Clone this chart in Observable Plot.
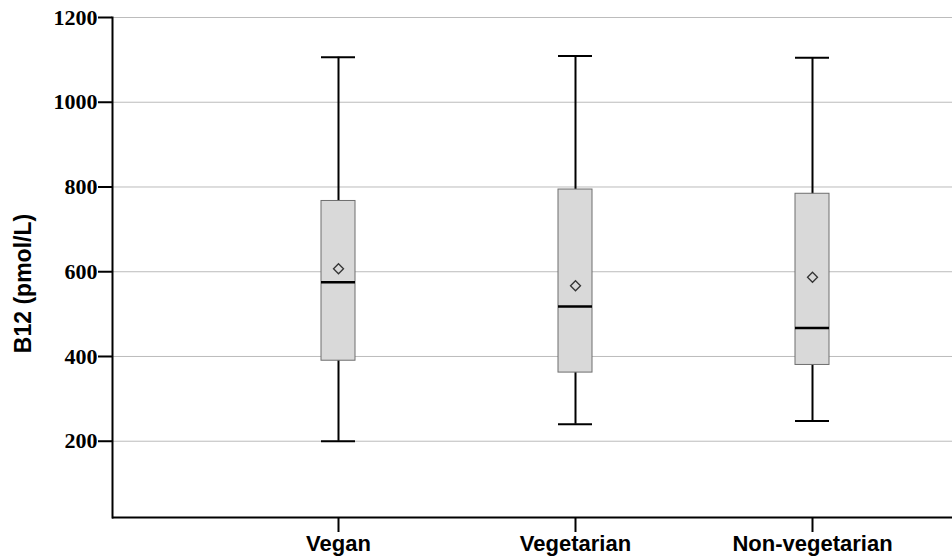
<!DOCTYPE html>
<html>
<head>
<meta charset="utf-8">
<script src="https://cdn.jsdelivr.net/npm/d3@7"></script>
<script src="https://cdn.jsdelivr.net/npm/@observablehq/plot@0.6"></script>
<style>
  html, body { margin: 0; padding: 0; background: #ffffff; }
  #chart { width: 952px; height: 558px; overflow: hidden; }
</style>
</head>
<body>
<div id="chart"></div>
<script>
const categories = ["Vegan", "Vegetarian", "Non-vegetarian"];
const whiskerLow = [200, 240, 248];
const q1 = [390, 362, 380];
const median = [575, 518, 467];
const q3 = [767, 794, 784];
const whiskerHigh = [1106, 1109, 1105];
const mean = [607, 567, 587];
const yTicks = [200, 400, 600, 800, 1000, 1200];
const yLabel = "B12 (pmol/L)";

const data = categories.map((c, i) => ({
  cat: c, lo: whiskerLow[i], q1: q1[i], med: median[i], q3: q3[i], hi: whiskerHigh[i], mean: mean[i]
}));

const chart = Plot.plot({
  width: 952,
  height: 558,
  marginLeft: 112,
  marginRight: 0,
  marginTop: 17,
  marginBottom: 41,
  style: { background: "white", overflow: "visible" },
  x: { type: "band", domain: categories, range: [218.25, 930.75], paddingInner: 0.857, paddingOuter: 0.4285, align: 0.5 },
  y: { domain: [20, 1200] },
  marks: [
    Plot.gridY(yTicks, { stroke: "#bcbcbc", strokeOpacity: 1, strokeWidth: 1 }),
    Plot.ruleX(data, { x: "cat", y1: "lo", y2: "hi", stroke: "black", strokeWidth: 2 }),
    Plot.tickY(data, { x: "cat", y: "lo", stroke: "black", strokeWidth: 2 }),
    Plot.tickY(data, { x: "cat", y: "hi", stroke: "black", strokeWidth: 2 }),
    Plot.barY(data, { x: "cat", y1: "q1", y2: "q3", fill: "#d9d9d9", stroke: "#6e6e6e", strokeWidth: 1 }),
    Plot.tickY(data, { x: "cat", y: "med", stroke: "black", strokeWidth: 2.5 }),
    Plot.dot(data, { x: "cat", y: "mean", symbol: "diamond2", r: 4.5, stroke: "#333", strokeWidth: 1.3, fill: "none" }),
    Plot.ruleY([20], { stroke: "black", strokeWidth: 2 }),
    Plot.frame({ anchor: "left", stroke: "black", strokeWidth: 2 }),
    Plot.axisY({ ticks: yTicks, tickFormat: d => String(d), tickSize: 14, tickPadding: 1, fontFamily: "Liberation Serif", fontWeight: "bold", fontSize: 22, label: null, strokeWidth: 2, color: "black" }),
    Plot.axisX({ tickSize: 15, tickPadding: 3, fontFamily: "Liberation Sans", fontWeight: "bold", fontSize: 22, label: null, strokeWidth: 2, color: "black" }),
    Plot.text([yLabel], { frameAnchor: "left", textAnchor: "middle", text: d => d, rotate: -90, dx: -89, dy: 16, fontFamily: "Liberation Sans", fontWeight: "bold", fontSize: 23, fill: "black" })
  ]
});
document.getElementById("chart").appendChild(chart);
</script>
</body>
</html>
